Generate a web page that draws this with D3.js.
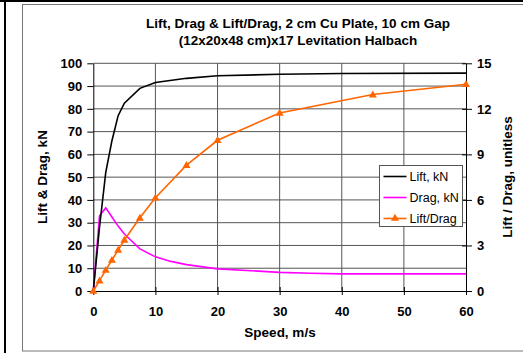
<!DOCTYPE html>
<html>
<head>
<meta charset="utf-8">
<script src="https://cdn.jsdelivr.net/npm/d3@7"></script>
<style>
  body { margin: 0; background: #fff; }
  text { font-family: "Liberation Sans", Arial, sans-serif; }
</style>
</head>
<body>
<script>
// speeds in m/s
const liftSpeed = [0, 1, 2, 3, 4, 5, 7.5, 10, 15, 20, 30, 40, 60];
const liftKN    = [0, 28, 52, 66, 77, 82.5, 89, 91.6, 93.4, 94.5, 95.2, 95.5, 95.7];

const dragSpeed = [0, 1, 2, 3, 4, 5, 7.5, 10, 12.5, 15, 20, 30, 35, 40, 60];
const dragKN    = [0, 33, 36.5, 32.5, 28.5, 25, 18.5, 15, 13, 11.6, 9.7, 8.2, 7.8, 7.5, 7.5];

const ratioSpeed = [0, 1, 2, 3, 4, 5, 7.5, 10, 15, 20, 30, 45, 60];
const ratioVal   = [0, 0.68, 1.38, 2.04, 2.7, 3.36, 4.82, 6.14, 8.29, 9.93, 11.73, 12.94, 13.62];

const xTicks = [0, 10, 20, 30, 40, 50, 60];
const yTicks = [0, 10, 20, 30, 40, 50, 60, 70, 80, 90, 100];
const y2Ticks = [0, 3, 6, 9, 12, 15];

const W = 523, H = 353;
const svg = d3.select("body").append("svg")
    .attr("width", W)
    .attr("height", H);

// outer frame
svg.append("rect").attr("x", 0).attr("y", 0).attr("width", W).attr("height", 2).attr("fill", "#000");
svg.append("rect").attr("x", 4).attr("y", 0).attr("width", 2).attr("height", H).attr("fill", "#000");
svg.append("rect")
    .attr("x", 22.5).attr("y", 4.5)
    .attr("width", 520).attr("height", 346.5)
    .attr("fill", "none").attr("stroke", "#777");

const x = d3.scaleLinear().domain([0, 60]).range([93.3, 466]);
const y = d3.scaleLinear().domain([0, 100]).range([291, 63.3]);
const y2 = d3.scaleLinear().domain([0, 15]).range([291, 63.3]);

// gridlines
svg.append("g").selectAll("line")
    .data(yTicks.slice(1))
    .enter().append("line")
    .attr("x1", x(0)).attr("x2", x(60))
    .attr("y1", d => y(d)).attr("y2", d => y(d))
    .attr("stroke", "#555").attr("stroke-width", 1);
svg.append("g").selectAll("line")
    .data(xTicks.slice(1, -1))
    .enter().append("line")
    .attr("x1", d => x(d)).attr("x2", d => x(d))
    .attr("y1", y(0)).attr("y2", y(100))
    .attr("stroke", "#555").attr("stroke-width", 1);

// axes
const bold = sel => sel.selectAll("text")
    .attr("font-size", 13).attr("font-weight", "bold")
    .attr("font-family", "'Liberation Sans', Arial, sans-serif").attr("fill", "#000");

svg.append("g")
    .attr("transform", `translate(0,${y(0)})`)
    .call(d3.axisBottom(x).tickValues(xTicks).tickSizeInner(4).tickSizeOuter(0).tickPadding(12))
    .call(g => g.selectAll(".tick line").attr("y1", -4))
    .call(bold);

svg.append("g")
    .attr("transform", `translate(${x(0)},0)`)
    .call(d3.axisLeft(y).tickValues(yTicks).tickSizeInner(6).tickSizeOuter(0).tickPadding(5))
    .call(bold);

svg.append("g")
    .attr("transform", `translate(${x(60)},0)`)
    .call(d3.axisRight(y2).tickValues(y2Ticks).tickSizeInner(6).tickSizeOuter(0).tickPadding(5))
    .call(g => g.selectAll(".tick line").attr("x1", -4))
    .call(bold);

svg.selectAll(".domain").attr("stroke", "#000");

// series
const line = d3.line();
const liftPts = liftSpeed.map((s, i) => [x(s), y(liftKN[i])]);
const dragPts = dragSpeed.map((s, i) => [x(s), y(dragKN[i])]);
const ratioPts = ratioSpeed.map((s, i) => [x(s), y2(ratioVal[i])]);

svg.append("path").attr("d", line(dragPts))
    .attr("fill", "none").attr("stroke", "#ff00ff").attr("stroke-width", 1.6);
svg.append("path").attr("d", line(liftPts))
    .attr("fill", "none").attr("stroke", "#000").attr("stroke-width", 1.6);
svg.append("path").attr("d", line(ratioPts))
    .attr("fill", "none").attr("stroke", "#ff6600").attr("stroke-width", 1.6);

const tri = d3.symbol().type(d3.symbolTriangle).size(28);
svg.append("g").selectAll("path")
    .data(ratioPts)
    .enter().append("path")
    .attr("d", tri)
    .attr("transform", d => `translate(${d[0]},${d[1] + 0.5})`)
    .attr("fill", "#ff6600");

// legend
const leg = svg.append("g").attr("transform", "translate(379.5,165.5)");
leg.append("rect").attr("width", 83).attr("height", 61)
    .attr("fill", "#fff").attr("stroke", "#555");
const items = [
    { name: "Lift, kN", color: "#000", mark: false },
    { name: "Drag, kN", color: "#ff00ff", mark: false },
    { name: "Lift/Drag", color: "#ff6600", mark: true }
];
items.forEach((it, i) => {
    const cy = 11 + i * 21;
    leg.append("line").attr("x1", 4).attr("x2", 27).attr("y1", cy).attr("y2", cy)
        .attr("stroke", it.color).attr("stroke-width", 1.6);
    if (it.mark) {
        leg.append("path").attr("d", tri).attr("transform", `translate(15.5,${cy})`).attr("fill", it.color);
    }
    leg.append("text").attr("x", 30).attr("y", cy + 4.5)
        .attr("font-size", 12.5).text(it.name);
});

// titles
svg.append("text").attr("x", 298).attr("y", 28).attr("text-anchor", "middle")
    .attr("font-size", 13.5).attr("font-weight", "bold")
    .text("Lift, Drag & Lift/Drag, 2 cm Cu Plate, 10 cm Gap");
svg.append("text").attr("x", 298).attr("y", 44.5).attr("text-anchor", "middle")
    .attr("font-size", 13.5).attr("font-weight", "bold")
    .text("(12x20x48 cm)x17 Levitation Halbach");

svg.append("text").attr("x", 280).attr("y", 337).attr("text-anchor", "middle")
    .attr("font-size", 13.5).attr("font-weight", "bold")
    .text("Speed, m/s");

svg.append("text").attr("transform", "translate(47,177) rotate(-90)")
    .attr("text-anchor", "middle")
    .attr("font-size", 13.5).attr("font-weight", "bold")
    .text("Lift & Drag, kN");

svg.append("text").attr("transform", "translate(512,177) rotate(-90)")
    .attr("text-anchor", "middle")
    .attr("font-size", 13.5).attr("font-weight", "bold")
    .text("Lift / Drag, unitless");
</script>
</body>
</html>
